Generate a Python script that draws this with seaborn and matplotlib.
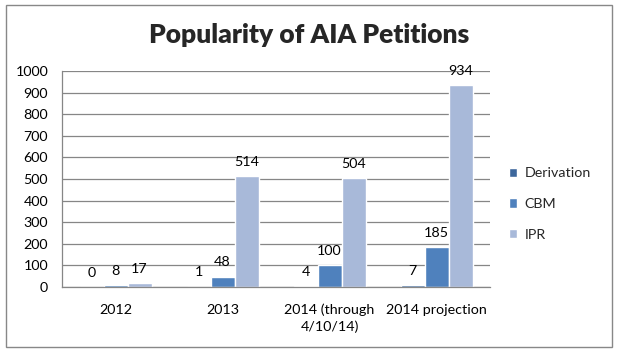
import matplotlib
matplotlib.use("Agg")
import matplotlib.pyplot as plt
import matplotlib.patches as mpatches
import pandas as pd
import seaborn as sns

# data
periods = ['2012', '2013', '2014 (through\n4/10/14)', '2014 projection']
derivation = [0, 1, 4, 7]
cbm = [8, 48, 100, 185]
ipr = [17, 514, 504, 934]
series_names = ['Derivation', 'CBM', 'IPR']
colors = ['#3D679C', '#4F81BD', '#A8B9D9']

df = pd.DataFrame({
    'period': periods * 3,
    'count': derivation + cbm + ipr,
    'type': [s for s in series_names for _ in periods],
})

sns.set_style('white')
plt.rcParams['font.family'] = ['Lato', 'DejaVu Sans']

fig = plt.figure(figsize=(6.17, 3.52), dpi=100)
ax = fig.add_axes([0.1005, 0.1847, 0.6937, 0.6136])

sns.barplot(data=df, x='period', y='count', hue='type', palette=colors,
            width=0.673, saturation=1, gap=0, ax=ax, errorbar=None)

for cont in ax.containers:
    ax.bar_label(cont, fmt='%d', padding=6, fontsize=10.3, color='black')

ax.set_ylim(0, 1000)
ax.set_yticks(range(0, 1001, 100))
ax.set_xlim(-0.5, 3.5)
ax.set_xlabel('')
ax.set_ylabel('')
ax.grid(axis='y', color='#868686', linewidth=0.9)
ax.set_axisbelow(True)
for side in ['top', 'right']:
    ax.spines[side].set_visible(False)
for side in ['left', 'bottom']:
    ax.spines[side].set_color('#868686')
    ax.spines[side].set_linewidth(0.9)
ax.tick_params(axis='both', length=0, labelsize=10.3, colors='black')
ax.tick_params(axis='y', pad=10)
ax.tick_params(axis='x', pad=12)
for lbl in ax.get_xticklabels():
    lbl.set_linespacing(1.45)

leg = ax.legend(loc='upper left', bbox_to_anchor=(1.03, 0.58), frameon=False,
                fontsize=10.3, handlelength=0.6, handleheight=0.6,
                handletextpad=0.5, labelspacing=1.3, borderaxespad=0)

fig.text(0.5016, 0.878, 'Popularity of AIA Petitions', ha='center',
         va='baseline', fontsize=19, fontweight='heavy')

fig.patches.append(mpatches.Rectangle((6 / 617, 5 / 352), 606 / 617, 342 / 352,
                                      transform=fig.transFigure, fill=False,
                                      edgecolor='#888888', linewidth=1))

fig.savefig('out.png', dpi=100)
